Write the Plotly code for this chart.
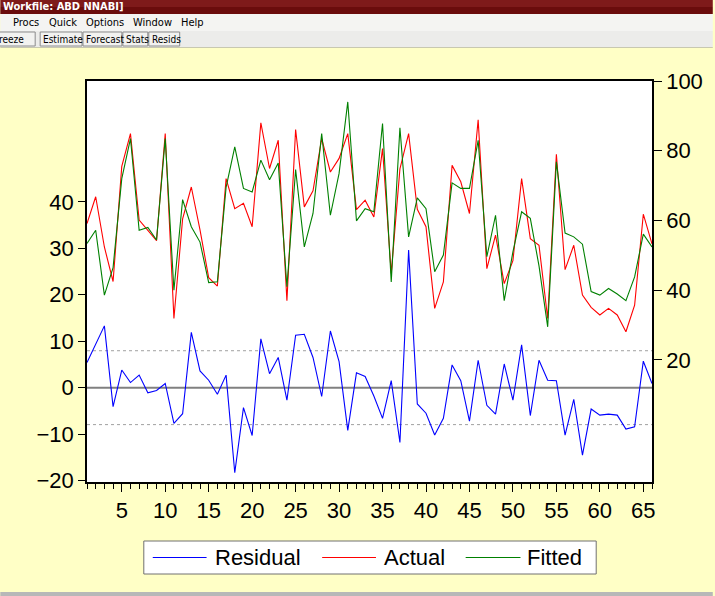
import plotly.graph_objects as go

# Observation index and the three series of the equation output
obs = list(range(1, 67))

actual = [59.1, 66.8, 52.4, 42.5, 75.5, 84.9, 60.1, 57.2, 54.2, 84.9,
          31.9, 60.5, 69.6, 57.3, 43.6, 41.2, 72.0, 63.4, 64.9, 58.2,
          88.0, 74.9, 83.0, 37.0, 86.1, 63.9, 68.5, 83.5, 73.9, 77.8,
          84.9, 63.1, 65.8, 61.0, 80.6, 44.8, 74.8, 84.9, 63.2, 58.2,
          34.8, 42.4, 75.8, 71.1, 62.0, 88.9, 46.2, 55.8, 41.9, 48.5,
          72.0, 54.8, 52.9, 31.9, 79.0, 45.9, 52.9, 38.6, 35.1, 32.9,
          34.8, 32.9, 28.1, 35.7, 61.8, 53.3]

fitted = [53.4, 57.2, 38.6, 46.5, 72.0, 83.5, 57.2, 58.0, 54.4, 83.5,
          40.0, 66.0, 58.2, 53.8, 42.2, 42.4, 69.5, 81.1, 69.2, 68.2,
          77.3, 71.7, 76.5, 41.0, 74.6, 52.4, 62.0, 84.9, 61.5, 73.5,
          94.0, 59.9, 63.4, 62.5, 87.8, 42.4, 86.6, 55.3, 66.5, 63.4,
          45.3, 50.1, 70.8, 69.2, 69.2, 83.0, 49.6, 61.5, 37.0, 51.0,
          62.5, 60.6, 47.0, 29.5, 76.8, 56.4, 55.3, 53.2, 39.6, 38.6,
          40.5, 38.9, 37.0, 43.8, 56.1, 52.4]

residual = [5.4, 9.3, 13.3, -4.1, 3.8, 1.1, 2.7, -1.1, -0.6, 0.9,
            -7.7, -5.6, 11.9, 3.6, 1.6, -1.4, 2.7, -18.3, -4.3, -10.3,
            10.5, 3.0, 6.5, -2.7, 11.3, 11.5, 6.5, -1.9, 12.2, 5.6,
            -9.2, 3.2, 2.4, -1.8, -6.6, 1.5, -11.8, 29.6, -3.5, -5.5,
            -10.2, -6.6, 4.9, 1.5, -7.2, 5.9, -3.8, -5.7, 5.1, -2.7,
            9.2, -6.0, 5.9, 1.6, 1.5, -10.2, -2.5, -14.5, -4.6, -5.9,
            -5.7, -5.9, -8.9, -8.4, 5.7, 0.9]

std_err = 7.95

x_ticks = [5, 10, 15, 20, 25, 30, 35, 40, 45, 50, 55, 60, 65]
left_ticks = [-20, -10, 0, 10, 20, 30, 40]
right_ticks = [20, 40, 60, 80, 100]

series_names = ["Residual", "Actual", "Fitted"]
series_colors = ["#0000FF", "#FF0000", "#008000"]

W, H = 715, 596
L, R, T, B = 87, 654, 81, 482
PW, PH = R - L, B - T


def px(x, y):
    """Pixel position in the window -> paper coordinates."""
    return (x - L) / PW, (B - y) / PH


fig = go.Figure()
fig.add_trace(go.Scatter(x=obs, y=residual, name=series_names[0], mode="lines",
                         line=dict(color=series_colors[0], width=1.1), yaxis="y"))
fig.add_trace(go.Scatter(x=obs, y=actual, name=series_names[1], mode="lines",
                         line=dict(color=series_colors[1], width=1.1), yaxis="y2"))
fig.add_trace(go.Scatter(x=obs, y=fitted, name=series_names[2], mode="lines",
                         line=dict(color=series_colors[2], width=1.1), yaxis="y2"))

shapes = []
annotations = []

# zero line and +/- one standard error bands for the residual
shapes.append(dict(type="line", xref="paper", yref="y", x0=0, x1=1, y0=0, y1=0,
                   line=dict(color="#808080", width=2), layer="below"))
for s in (std_err, -std_err):
    shapes.append(dict(type="line", xref="paper", yref="y", x0=0, x1=1, y0=s, y1=s,
                       line=dict(color="#A0A0A0", width=1, dash="dot"), layer="below"))


def rect(x0, y0, x1, y1, fill, line_color=None, lw=0):
    a0, b0 = px(x0, y0)
    a1, b1 = px(x1, y1)
    shapes.append(dict(type="rect", xref="paper", yref="paper",
                       x0=a0, y0=b1, x1=a1, y1=b0, fillcolor=fill,
                       line=dict(color=line_color or fill, width=lw), layer="above"))


def hline(x0, x1, y, color, width=1.2):
    a0, b = px(x0, y)
    a1, _ = px(x1, y)
    shapes.append(dict(type="line", xref="paper", yref="paper", x0=a0, x1=a1, y0=b, y1=b,
                       line=dict(color=color, width=width), layer="above"))


def label(x, y, text, size=11, color="black", bold=False, family="Liberation Sans"):
    a, b = px(x, y)
    annotations.append(dict(xref="paper", yref="paper", x=a, y=b,
                            text=(f"<b>{text}</b>" if bold else text),
                            showarrow=False, xanchor="left", yanchor="middle",
                            xshift=0, yshift=0, borderpad=0,
                            font=dict(size=size, color=color, family=family)))


# window title bar
rect(0, 0, W, 7, "#7E1A1A")
rect(0, 7, W, 14, "#6A0C0C")
label(2, 6.5, "Workfile: ABD NNABI]", size=11, color="white", bold=True,
      family="DejaVu Sans Condensed")

# menu bar
rect(0, 14, W, 31, "#F4F4F2")
for x, t in [(12, "Procs"), (48, "Quick"), (85, "Options"), (132, "Window"), (180, "Help")]:
    label(x, 22.5, t, size=11, family="DejaVu Sans Condensed")

# tool bar with buttons
rect(0, 31, W, 47, "#ECECEA")
for x0, x1, t in [(-4, 35, "reeze"), (40, 82, "Estimate"), (83, 122, "Forecast"),
                  (123, 148, "Stats"), (149, 180, "Resids")]:
    rect(x0, 32, x1, 46, "#F2F2F0", "#8C8C8C", 1)
    label(x0 + 2, 39.5, t, size=10, family="DejaVu Sans Condensed")
rect(0, 47, W, 48, "#C8C8B0")

# bottom window edge
rect(0, 592, W, 596, "#B8B8B8")

# legend box with line samples beneath the chart
rect(144, 541, 598, 574, "white", "#707070", 1)
legend_slots = [(153, 207, 214), (323, 377, 384), (467, 522, 528)]
for (lx0, lx1, tx), name, color in zip(legend_slots, series_names, series_colors):
    hline(lx0, lx1, 557.5, color)
    label(tx, 557.5, name, size=22)

fig.update_layout(
    width=W, height=H,
    margin=dict(l=L, r=W - R, t=T, b=H - B, pad=0),
    paper_bgcolor="#FFFFC6",
    plot_bgcolor="white",
    font=dict(family="Liberation Sans", size=22, color="black"),
    showlegend=False,
    xaxis=dict(range=[1, 66], tickvals=x_ticks, ticks="outside", ticklen=8, tickwidth=1,
               tickcolor="black", minor=dict(dtick=1, tick0=1, ticks="outside", ticklen=5,
                                              tickcolor="black", tickwidth=1),
               showline=True, linecolor="black", linewidth=1.5, mirror=True,
               showgrid=False, zeroline=False),
    yaxis=dict(range=[-20.3, 66.0], tickvals=left_ticks, ticks="outside", ticklen=7,
               tickcolor="black", showline=True, linecolor="black", linewidth=1.5,
               showgrid=False, zeroline=False),
    yaxis2=dict(range=[-15, 100], tickvals=right_ticks, ticks="outside", ticklen=8,
                tickcolor="black", overlaying="y", side="right", showline=True,
                linecolor="black", linewidth=1.5, showgrid=False, zeroline=False),
    shapes=shapes,
    annotations=annotations,
)

fig.write_html("out.html")
